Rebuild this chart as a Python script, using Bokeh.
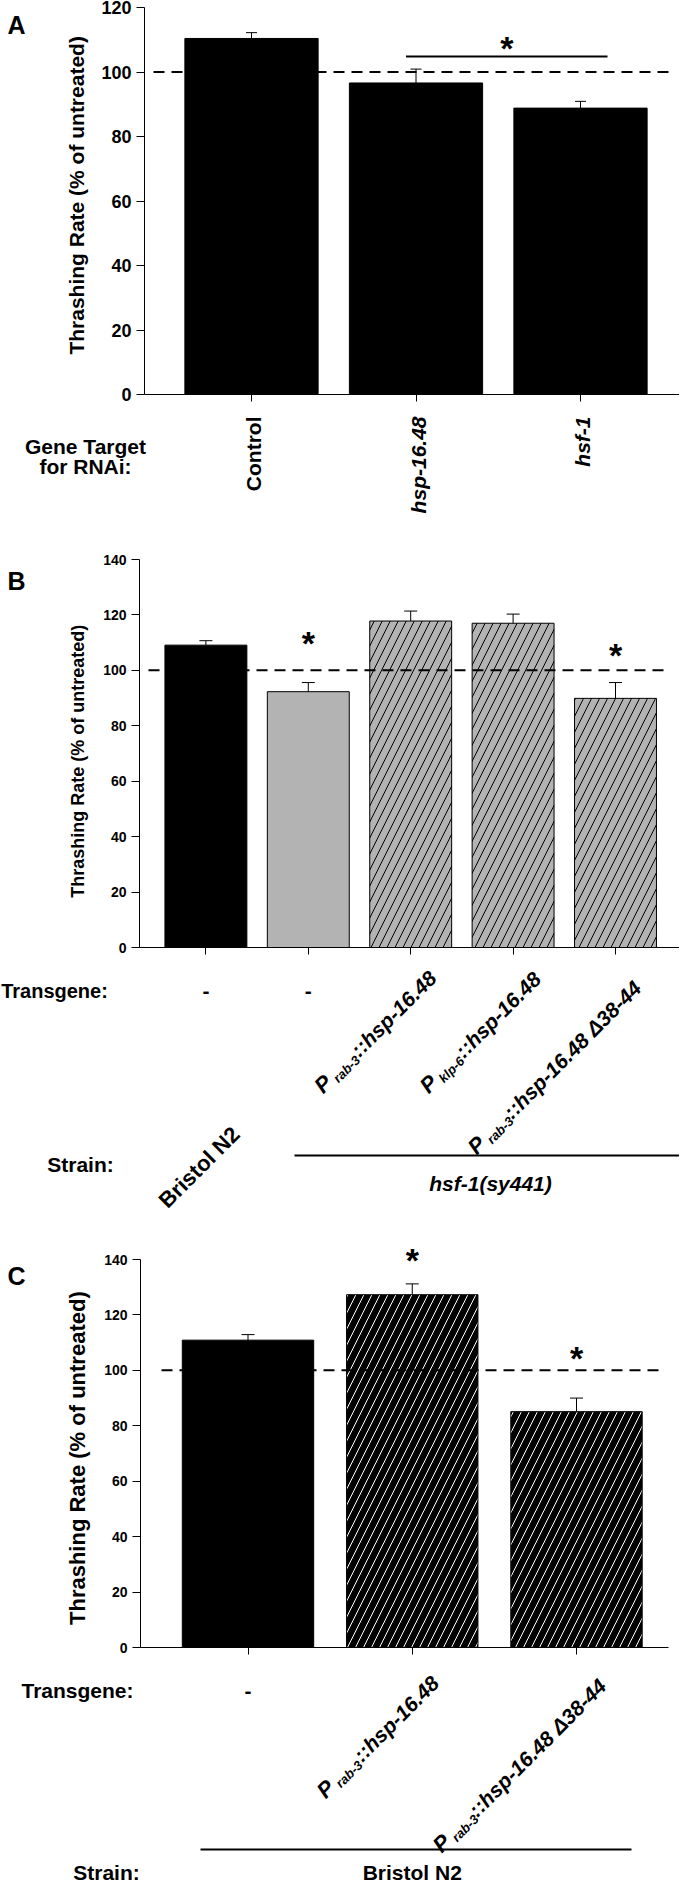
import math
from bokeh.plotting import figure
from bokeh.models import Whisker, TeeHead, ColumnDataSource, FixedTicker, Range1d
from bokeh.layouts import column, row
from bokeh.embed import file_html
from bokeh.resources import INLINE
from bokeh.core.properties import value

# ---------------- data ----------------
REFERENCE = 100  # untreated level (%)

A_targets = ["Control", "hsp-16.48", "hsf-1"]
A_italic = [False, True, True]
A_mean = [110.4, 96.6, 88.8]
A_err = [1.8, 4.3, 2.1]
A_bracket_y = 104.8
A_star_y = 110.0

B_prefix = ["", "", "P", "P", "P"]
B_sub = ["", "", "rab-3", "klp-6", "rab-3"]
B_gene = ["-", "-", "::hsp-16.48", "::hsp-16.48", "::hsp-16.48 \u039438-44"]
B_strain = ["Bristol N2", "hsf-1(sy441)", "hsf-1(sy441)", "hsf-1(sy441)", "hsf-1(sy441)"]
B_mean = [109.1, 92.3, 117.8, 117.0, 89.9]
B_err = [1.6, 3.3, 3.6, 3.3, 5.7]
B_star_y = [None, 112.6, None, None, 108.3]

C_prefix = ["", "P", "P"]
C_sub = ["", "rab-3", "rab-3"]
C_gene = ["-", "::hsp-16.48", "::hsp-16.48 \u039438-44"]
C_strain = ["Bristol N2", "Bristol N2", "Bristol N2"]
C_mean = [110.9, 127.3, 85.1]
C_err = [2.0, 3.9, 4.9]
C_star_y = [None, 142.5, 107.2]

# ---------------- styles ----------------
FONT = "Liberation Sans"
GRAY = "#b3b3b3"
B_fill = ["black", GRAY, GRAY, GRAY, GRAY]
B_hatch = [" ", " ", "/", "/", "/"]
C_fill = ["black", "black", "black"]
C_hatch = [" ", "/", "/"]
YLABEL = "Thrashing Rate (% of untreated)"

# Arial/Liberation bold advance widths (em)
WID = {' ': .278, ':': .333, '-': .333, '.': .278, 'a': .556, 'b': .611, 'h': .611,
       'k': .556, 'l': .278, 'p': .611, 'r': .389, 's': .556, 'P': .667, '\u0394': .612}


def tw(s, size):
    return sum(WID.get(ch, .556) for ch in s) * size


class Geo:
    """Frame geometry of one chart, in page pixels."""
    def __init__(self, fl, fr, fb, ft_axis, ymax, x0px, dxpx, ft_frame=None):
        self.fl, self.fr, self.fb = fl, fr, fb
        self.ymax = ymax
        self.ppu = (fb - ft_axis) / ymax
        self.ft = ft_axis if ft_frame is None else ft_frame
        self.yend = (fb - self.ft) / self.ppu
        self.x0px, self.dxpx = x0px, dxpx

    def x(self, wx):
        return (wx - self.x0px) / self.dxpx

    def wx(self, xv):
        return self.x0px + xv * self.dxpx


def chart_fig(g, wx0, wx1, wy0, wy1, n, tick_size):
    p = figure(width=int(wx1 - wx0), height=int(wy1 - wy0), title=None,
               x_range=Range1d(g.x(g.fl), g.x(g.fr)), y_range=Range1d(0, g.yend),
               output_backend="svg", toolbar_location=None,
               min_border_left=int(round(g.fl - wx0)), min_border_right=int(round(wx1 - g.fr)),
               min_border_top=int(round(g.ft - wy0)), min_border_bottom=int(round(wy1 - g.fb)))
    p.xgrid.visible = False
    p.ygrid.visible = False
    p.outline_line_color = None
    xa = p.xaxis[0]
    xa.ticker = FixedTicker(ticks=list(range(n)))
    xa.major_label_text_color = None
    xa.major_label_text_alpha = 0
    xa.major_label_standoff = 0
    xa.major_tick_in = 0
    xa.major_tick_out = 7
    xa.minor_tick_out = 0
    xa.minor_tick_in = 0
    xa.axis_line_color = "black"
    xa.major_tick_line_color = "black"
    ya = p.yaxis[0]
    ya.ticker = FixedTicker(ticks=list(range(0, g.ymax + 1, 20)))
    ya.bounds = (0, g.ymax)
    ya.major_tick_in = 0
    ya.major_tick_out = 8
    ya.minor_tick_out = 0
    ya.minor_tick_in = 0
    ya.major_label_standoff = 5
    ya.major_label_text_font = FONT
    ya.major_label_text_font_style = "bold"
    ya.major_label_text_font_size = f"{tick_size}px"
    ya.major_label_text_color = "black"
    ya.axis_line_color = "black"
    ya.major_tick_line_color = "black"
    return p


def text_fig(wx0, wx1, wy0, wy1):
    p = figure(width=int(wx1 - wx0), height=int(wy1 - wy0), title=None,
               x_range=Range1d(wx0, wx1), y_range=Range1d(-wy1, -wy0),
               x_axis_type=None, y_axis_type=None,
               output_backend="svg", toolbar_location=None,
               min_border_left=0, min_border_right=0, min_border_top=0, min_border_bottom=0)
    p.outline_line_color = None
    return p


def txt(p, wx, wy, text, size, style="bold", align="center", baseline="alphabetic", angle=0.0):
    p.text(x=[wx], y=[-wy], text=[text], text_font=value(FONT),
           text_font_size=value(f"{size}px"), text_font_style=value(style),
           text_align=value(align), text_baseline=value(baseline), angle=angle,
           text_color="black")


def rot_label(p, ewx, ewy, prefix, sub, main, size=21, subsize=13, psize=22, ang=math.pi / 4):
    ux, uy = math.cos(ang), -math.sin(ang)
    nx, ny = math.sin(ang), math.cos(ang)
    txt(p, ewx, ewy, main, size, "bold italic", "right", "middle", ang)
    d = tw(main, size) + 1
    txt(p, ewx - ux * d + nx * 6, ewy - uy * d + ny * 6, sub, subsize, "bold italic", "right", "middle", ang)
    d2 = d + tw(sub, subsize) + 4
    txt(p, ewx - ux * d2, ewy - uy * d2, prefix, psize, "bold italic", "right", "middle", ang)


def bars(p, mean, err, fills, hatches, hatch_color, width, cap):
    n = len(mean)
    src = ColumnDataSource(dict(x=list(range(n)), top=mean,
                                upper=[m + e for m, e in zip(mean, err)], lower=mean,
                                fill=fills, hatch=hatches))
    p.vbar(x="x", top="top", width=width, source=src, fill_color="fill",
           line_color="black", line_width=1, hatch_pattern="hatch",
           hatch_color=hatch_color, hatch_scale=16, hatch_weight=1)
    p.add_layout(Whisker(source=src, base="x", upper="upper", lower="lower",
                         upper_head=TeeHead(size=cap, line_width=1, line_color="black"),
                         lower_head=None, line_width=1, line_color="black", level="overlay"))


def ref_line(p, g, wx0, wx1):
    p.segment(x0=[g.x(wx0)], y0=[REFERENCE], x1=[g.x(wx1)], y1=[REFERENCE],
              line_color="black", line_width=2, line_dash="11 7")


def star(p, xv, yv, size=34):
    p.text(x=[xv], y=[yv], text=["*"], text_font=value(FONT), text_font_size=value(f"{size}px"),
           text_font_style=value("bold"), text_align=value("center"),
           text_baseline=value("middle"), y_offset=0.23 * size, text_color="black")


# ================= Panel A (page y 8..527) =================
gA = Geo(fl=152, fr=687, fb=402, ft_axis=15, ymax=120, x0px=259, dxpx=164.5)
LA = text_fig(8, 100, 8, 420)
CA = chart_fig(gA, 100, 687, 8, 420, len(A_mean), 18)
BA = text_fig(8, 687, 420, 527)

bars(CA, A_mean, A_err, ["black"] * 3, [" "] * 3, "black", 0.81, 11)
ref_line(CA, gA, 161, 680)
CA.segment(x0=[gA.x(413.5)], y0=[A_bracket_y], x1=[gA.x(615)], y1=[A_bracket_y],
           line_color="black", line_width=2)
star(CA, gA.x((413.5 + 615) / 2), A_star_y)
txt(LA, 15, 27, "A", 25, "bold", "left")
txt(LA, 84, 208, YLABEL, 21, "bold", "center", "middle", math.pi / 2)
txt(BA, 93, 454, "Gene Target", 21, "bold", "center")
txt(BA, 93, 474, "for RNAi:", 21, "bold", "center")
for i, (t, it) in enumerate(zip(A_targets, A_italic)):
    txt(BA, gA.wx(i) + 2, 424, t, 21, "bold italic" if it else "bold", "right", "middle", math.pi / 2)

# ================= Panel B (page y 527..1228) =================
gB = Geo(fl=147, fr=687, fb=955, ft_axis=567, ymax=140, x0px=213.4, dxpx=102.4)
LB = text_fig(8, 100, 527, 975)
CB = chart_fig(gB, 100, 687, 527, 975, len(B_mean), 14)
BB = text_fig(8, 687, 975, 1228)

bars(CB, B_mean, B_err, B_fill, B_hatch, "black", 0.80, 13)
ref_line(CB, gB, 156, 674)
for i, sy in enumerate(B_star_y):
    if sy is not None:
        star(CB, i, sy)
txt(LB, 15, 552, "B", 25, "bold", "left")
txt(LB, 85, 760, YLABEL, 18, "bold", "center", "middle", math.pi / 2)
txt(BB, 62, 998, "Transgene:", 20, "bold", "center")
B_end = [None, None, (22, 27), (24, 28), (22, 37)]
for i in range(len(B_gene)):
    if B_prefix[i] == "":
        txt(BB, gB.wx(i), 998, B_gene[i], 21, "bold", "center")
    else:
        dx, dy = B_end[i]
        rot_label(BB, gB.wx(i) + dx, gB.fb + dy, B_prefix[i], B_sub[i], B_gene[i])
txt(BB, 88, 1172, "Strain:", 21, "bold", "center")
txt(BB, gB.wx(0) + 30, gB.fb + 183, B_strain[0], 22, "bold", "right", "middle", math.pi / 4)
BB.segment(x0=[302], y0=[-1163], x1=[687], y1=[-1163], line_color="black", line_width=2)
txt(BB, 498, 1191, B_strain[1], 21, "bold italic", "center")

# ================= Panel C (page y 1228..1890) =================
gC = Geo(fl=148, fr=676, fb=1655, ft_axis=1267, ymax=140, x0px=255.5, dxpx=164.25, ft_frame=1250)
LC = text_fig(8, 100, 1228, 1675)
CC = chart_fig(gC, 100, 687, 1228, 1675, len(C_mean), 14)
BC = text_fig(8, 687, 1675, 1890)

bars(CC, C_mean, C_err, C_fill, C_hatch, "white", 0.80, 13)
ref_line(CC, gC, 169, 671)
for i, sy in enumerate(C_star_y):
    if sy is not None:
        star(CC, i, sy)
txt(LC, 15, 1265, "C", 25, "bold", "left")
txt(LC, 85, 1466, YLABEL, 22, "bold", "center", "middle", math.pi / 2)
txt(BC, 85, 1698, "Transgene:", 21, "bold", "center")
C_end = [None, (23, 32), (26, 35)]
for i in range(len(C_gene)):
    if C_prefix[i] == "":
        txt(BC, gC.wx(i), 1698, C_gene[i], 21, "bold", "center")
    else:
        dx, dy = C_end[i]
        rot_label(BC, gC.wx(i) + dx, gC.fb + dy, C_prefix[i], C_sub[i], C_gene[i])
BC.segment(x0=[208], y0=[-1857], x1=[639], y1=[-1857], line_color="black", line_width=2)
txt(BC, 114, 1880, "Strain:", 21, "bold", "center")
txt(BC, gC.wx(1), 1880, C_strain[1], 21, "bold", "center")

layout = column(row(LA, CA, spacing=0), BA,
                row(LB, CB, spacing=0), BB,
                row(LC, CC, spacing=0), BC, spacing=0)
open("out.html", "w").write(file_html(layout, INLINE))
